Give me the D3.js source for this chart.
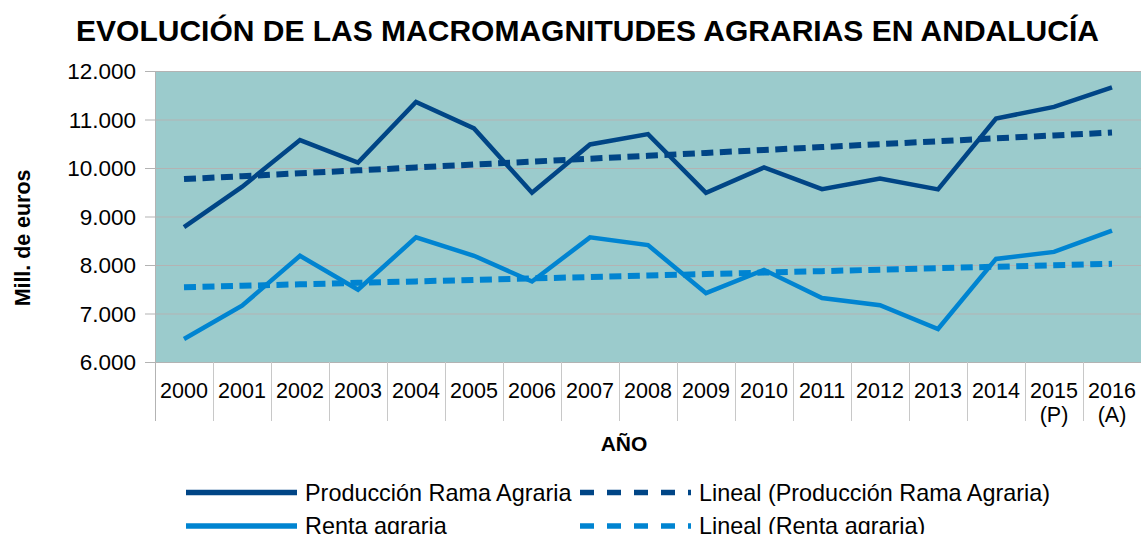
<!DOCTYPE html>
<html>
<head>
<meta charset="utf-8">
<script src="https://cdn.jsdelivr.net/npm/d3@7"></script>
<style>
  body { margin: 0; background: #fff; }
  text { font-family: "Liberation Sans", Arial, sans-serif; fill: #000; }
</style>
</head>
<body>
<svg id="chart"></svg>
<script>
const years = ['2000', '2001', '2002', '2003', '2004', '2005', '2006', '2007', '2008',
  '2009', '2010', '2011', '2012', '2013', '2014', '2015 (P)', '2016 (A)'];
const produccion = [8780, 9610, 10575, 10110, 11360, 10815, 9490, 10485, 10700,
  9490, 10010, 9565, 9785, 9560, 11020, 11260, 11660];
const renta = [6475, 7160, 8190, 7490, 8570, 8190, 7660, 8570, 8410,
  7420, 7900, 7320, 7170, 6680, 8125, 8270, 8710];
const yTicks = [6000, 7000, 8000, 9000, 10000, 11000, 12000];

const chartSize = { width: 1141, height: 534 };
const margin = { left: 155, right: 0, top: 71, bottom: 172 };
const width = chartSize.width - margin.left - margin.right;
const height = chartSize.height - margin.top - margin.bottom;

const darkBlue = '#004586';
const lightBlue = '#0084d1';

// least squares trend, like the "Lineal" trendline of the spreadsheet
const trend = (values) => {
  const mx = d3.mean(values, (v, i) => i);
  const my = d3.mean(values);
  const sxy = d3.sum(values, (v, i) => (i - mx) * (v - my));
  const sxx = d3.sum(values, (v, i) => (i - mx) * (i - mx));
  const b = sxy / sxx;
  return values.map((v, i) => my + b * (i - mx));
};

const svg = d3.select('#chart')
  .attr('width', chartSize.width)
  .attr('height', chartSize.height);

const x = d3.scaleBand()
  .domain(years)
  .range([0, width]);

const y = d3.scaleLinear()
  .domain([6000, 12000])
  .range([height, 0]);

const g = svg.append('g')
  .attr('transform', `translate(${margin.left},${margin.top})`);

g.append('rect')
  .attr('width', width)
  .attr('height', height)
  .attr('fill', '#9bcbcc');

// grid + y axis
const fmt = d3.formatLocale({ decimal: ',', thousands: '.', grouping: [3], currency: ['', '€'] }).format(',d');

g.selectAll('.grid')
  .data(yTicks)
  .enter()
  .append('line')
  .attr('x1', -10)
  .attr('x2', width)
  .attr('y1', d => y(d) + 0.5)
  .attr('y2', d => y(d) + 0.5)
  .attr('stroke', '#b3b3b3')
  .attr('stroke-width', 1);

g.selectAll('.ytick')
  .data(yTicks)
  .enter()
  .append('text')
  .attr('x', -19)
  .attr('y', d => y(d))
  .attr('dy', '0.36em')
  .attr('text-anchor', 'end')
  .style('font-size', '22.5px')
  .text(d => fmt(d));

g.append('line')
  .attr('x1', 0.5).attr('x2', 0.5)
  .attr('y1', 0).attr('y2', height + 59)
  .attr('stroke', '#b3b3b3');

// category separators below the plot
g.selectAll('.sep')
  .data(years.slice(1))
  .enter()
  .append('line')
  .attr('x1', d => x(d) + 0.5)
  .attr('x2', d => x(d) + 0.5)
  .attr('y1', height)
  .attr('y2', height + 59)
  .attr('stroke', '#c8c8c8');

const xLabels = g.selectAll('.xlabel')
  .data(years)
  .enter()
  .append('text')
  .attr('x', d => x(d) + x.bandwidth() / 2)
  .attr('y', height + 36)
  .attr('text-anchor', 'middle')
  .style('font-size', '21.5px');

xLabels.each(function (d) {
  const parts = d.split(' ');
  d3.select(this).selectAll('tspan')
    .data(parts)
    .enter()
    .append('tspan')
    .attr('x', x(d) + x.bandwidth() / 2)
    .attr('dy', (p, i) => i === 0 ? 0 : 23.5)
    .text(p => p);
});

// series
const cx = (d, i) => x(years[i]) + x.bandwidth() / 2;
const line = d3.line()
  .x(cx)
  .y(d => y(d));

const series = [
  { values: trend(produccion), color: darkBlue, dash: '12,6.5', w: 6 },
  { values: trend(renta), color: lightBlue, dash: '12,6.5', w: 6 },
  { values: produccion, color: darkBlue, dash: null, w: 4.5 },
  { values: renta, color: lightBlue, dash: null, w: 4.5 },
];

g.selectAll('.series')
  .data(series)
  .enter()
  .append('path')
  .attr('d', s => line(s.values))
  .attr('fill', 'none')
  .attr('stroke', s => s.color)
  .attr('stroke-width', s => s.w)
  .attr('stroke-dasharray', s => s.dash)
  .attr('stroke-linejoin', 'miter');

// titles
svg.append('text')
  .attr('x', 587.5)
  .attr('y', 41)
  .attr('text-anchor', 'middle')
  .style('font-size', '30px')
  .style('font-weight', 'bold')
  .text('EVOLUCIÓN DE LAS MACROMAGNITUDES AGRARIAS EN ANDALUCÍA');

svg.append('text')
  .attr('x', 624)
  .attr('y', 451)
  .attr('text-anchor', 'middle')
  .style('font-size', '21px')
  .style('font-weight', 'bold')
  .text('AÑO');

svg.append('text')
  .attr('transform', 'translate(30,238) rotate(-90)')
  .attr('text-anchor', 'middle')
  .style('font-size', '21.4px')
  .style('font-weight', 'bold')
  .text('Mill. de euros');

// legend
const legendItems = [
  { label: 'Producción Rama Agraria', color: darkBlue, dash: null, x: 186, y: 492.5 },
  { label: 'Lineal (Producción Rama Agraria)', color: darkBlue, dash: '14,13', x: 580, y: 492.5 },
  { label: 'Renta agraria', color: lightBlue, dash: null, x: 186, y: 526 },
  { label: 'Lineal (Renta agraria)', color: lightBlue, dash: '14,13', x: 580, y: 526 },
];

const legend = svg.selectAll('.legend')
  .data(legendItems)
  .enter()
  .append('g')
  .attr('transform', d => `translate(${d.x},${d.y})`);

legend.append('line')
  .attr('x1', 0)
  .attr('x2', 111)
  .attr('stroke', d => d.color)
  .attr('stroke-width', 5.4)
  .attr('stroke-dasharray', d => d.dash);

legend.append('text')
  .attr('x', 119)
  .attr('dy', '0.36em')
  .style('font-size', '23.4px')
  .text(d => d.label);
</script>
</body>
</html>
